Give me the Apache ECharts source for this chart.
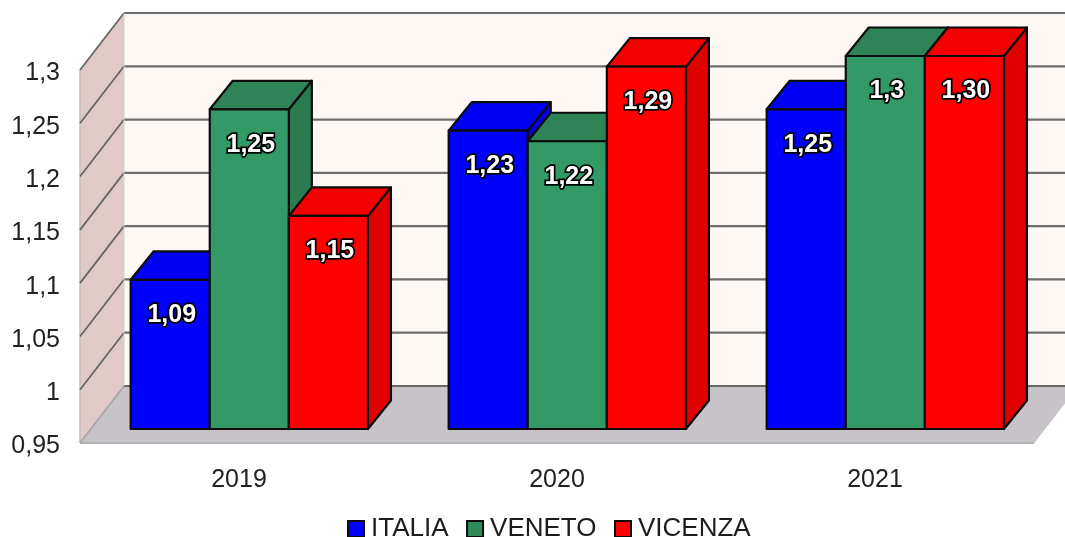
<!DOCTYPE html>
<html>
<head>
<meta charset="utf-8">
<style>
html,body{margin:0;padding:0;background:#fff;overflow:hidden}
#c{width:1065px;height:537px;filter:blur(0.5px)}
</style>
<script src="https://cdn.jsdelivr.net/npm/echarts@6/dist/echarts.min.js"></script>
</head>
<body>
<div id="c"></div>
<script>
const categories = ['2019', '2020', '2021'];
const yTicks = [0.95, 1, 1.05, 1.1, 1.15, 1.2, 1.25, 1.3];
const italia = [1.09, 1.23, 1.25];
const veneto = [1.25, 1.22, 1.30];
const vicenza = [1.15, 1.29, 1.30];
const italiaLabels = ['1,09', '1,23', '1,25'];
const venetoLabels = ['1,25', '1,22', '1,3'];
const vicenzaLabels = ['1,15', '1,29', '1,30'];

const DX = 44, DY = -57;          // chart depth
const BAR_DX = 10.3, BAR_DY = -14; // bar front-plane offset
const BDX = 23, BDY = -28.5;       // bar depth
const FONT = '"Liberation Sans", Arial, sans-serif';
const EDGE = '#0c0c0c';

function backdrop(params, api) {
  const cs = params.coordSys;
  const l = cs.x, r = cs.x + cs.width;
  const yBot = api.coord([0, yTicks[0]])[1];
  const yTop = api.coord([0, yTicks[yTicks.length - 1]])[1];
  const ch = [];
  ch.push({type: 'polygon', shape: {points: [[l + DX, yTop + DY], [r + DX, yTop + DY], [r + DX, yBot + DY], [l + DX, yBot + DY]]},
    style: {fill: '#fdf8f4'}});
  ch.push({type: 'polygon', shape: {points: [[l, yTop], [l + DX, yTop + DY], [l + DX, yBot + DY], [l, yBot]]},
    style: {fill: '#e0c9c7'}});
  ch.push({type: 'polygon', shape: {points: [[l, yBot], [l + DX, yBot + DY], [r + DX, yBot + DY], [r, yBot]]},
    style: {fill: '#c7c3c9'}});
  ch.push({type: 'line', shape: {x1: l, y1: yBot, x2: r, y2: yBot}, style: {stroke: '#b4b2b6', lineWidth: 2}});
  ch.push({type: 'line', shape: {x1: l, y1: yBot, x2: l, y2: yTop}, style: {stroke: '#c9bcbc', lineWidth: 1.5}});
  ch.push({type: 'line', shape: {x1: r, y1: yBot, x2: r + DX, y2: yBot + DY}, style: {stroke: '#c9c9cc', lineWidth: 1}});
  yTicks.forEach(function (t, i) {
    const y = api.coord([0, t])[1];
    const col = i === 0 ? '#a9a6ab' : '#666767';
    ch.push({type: 'line', shape: {x1: l, y1: y, x2: l + DX, y2: y + DY}, style: {stroke: col, lineWidth: 1.8}});
    ch.push({type: 'line', shape: {x1: l + DX, y1: y + DY, x2: r + DX, y2: y + DY}, style: {stroke: i === 0 ? '#666767' : '#6e6e6e', lineWidth: 2.2}});
  });
  ch.push({type: 'line', shape: {x1: l + DX, y1: yBot + DY, x2: l + DX, y2: yTop + DY}, style: {stroke: '#d4cfcc', lineWidth: 1}});
  return {type: 'group', children: ch};
}

function barRenderer(slot, front, top, side, labels) {
  return function (params, api) {
    const i = api.value(0), v = api.value(1);
    const band = api.size([1, 0])[0];
    const w = band * 0.2487;
    const c = api.coord([i, v]);
    const b = api.coord([i, yTicks[0]]);
    const x0 = c[0] + BAR_DX + (slot - 1.5) * w, x1 = x0 + w;
    const yT = c[1] + BAR_DY, yB = b[1] + BAR_DY;
    const stroke = {stroke: EDGE, lineWidth: 2.2, lineJoin: 'round'};
    return {type: 'group', children: [
      {type: 'polygon', shape: {points: [[x1, yT], [x1 + BDX, yT + BDY], [x1 + BDX, yB + BDY], [x1, yB]]},
        style: Object.assign({fill: side}, stroke)},
      {type: 'polygon', shape: {points: [[x0, yT], [x0 + BDX, yT + BDY], [x1 + BDX, yT + BDY], [x1, yT]]},
        style: Object.assign({fill: top}, stroke)},
      {type: 'rect', shape: {x: x0, y: yT, width: w, height: yB - yT},
        style: Object.assign({fill: front}, stroke)},
      {type: 'text', x: (x0 + x1) / 2 + 1.5, y: yT + 35.5, z2: 10,
        style: {text: labels[params.dataIndex], fill: '#fff', stroke: '#000', lineWidth: 3.5,
          font: 'bold 25px ' + FONT, align: 'center', verticalAlign: 'middle'}}
    ]};
  };
}

function rows(vals) { return vals.map(function (v, i) { return [i, v]; }); }

const chart = echarts.init(document.getElementById('c'), null, {renderer: 'canvas'});
chart.setOption({
  animation: false,
  backgroundColor: '#ffffff',
  grid: {left: 80, top: 70, right: 31, bottom: 94},
  legend: {
    data: ['ITALIA', 'VENETO', 'VICENZA'], left: 347, top: 516, padding: 0,
    icon: 'rect', itemWidth: 16, itemHeight: 16, itemGap: 17.5,
    itemStyle: {borderColor: '#0c0c0c', borderWidth: 2},
    textStyle: {color: '#1c1c1c', fontFamily: FONT, fontSize: 26, padding: [0, 0, 0, 2]}
  },
  xAxis: {type: 'category', data: categories,
    axisLine: {show: false}, axisTick: {show: false}, splitLine: {show: false},
    axisLabel: {color: '#222', fontFamily: FONT, fontSize: 25, margin: 25}},
  yAxis: {type: 'value', min: 0.95, max: 1.3, interval: 0.05,
    axisLine: {show: false}, axisTick: {show: false}, splitLine: {show: false},
    axisLabel: {color: '#222', fontFamily: FONT, fontSize: 25, margin: 20,
      rich: {t: {color: '#222', fontFamily: FONT, fontSize: 25, padding: [7, 0, 0, 0]}},
      formatter: function (v) { return '{t|' + String(+v.toFixed(2)).replace('.', ',') + '}'; }}},
  series: [
    {type: 'custom', silent: true, z: 1, renderItem: backdrop, data: [[0, yTicks[0]]], encode: {x: 0, y: 1}},
    {type: 'custom', name: 'ITALIA', z: 2, itemStyle: {color: '#0000ff'}, encode: {x: 0, y: 1}, data: rows(italia),
      renderItem: barRenderer(0, '#0000ff', '#0000f2', '#0000e0', italiaLabels)},
    {type: 'custom', name: 'VENETO', z: 3, itemStyle: {color: '#2e8b57'}, encode: {x: 0, y: 1}, data: rows(veneto),
      renderItem: barRenderer(1, '#339966', '#2e8456', '#2b7a50', venetoLabels)},
    {type: 'custom', name: 'VICENZA', z: 4, itemStyle: {color: '#ff0000'}, encode: {x: 0, y: 1}, data: rows(vicenza),
      renderItem: barRenderer(2, '#ff0000', '#f40000', '#e00000', vicenzaLabels)}
  ]
});
</script>
</body>
</html>
